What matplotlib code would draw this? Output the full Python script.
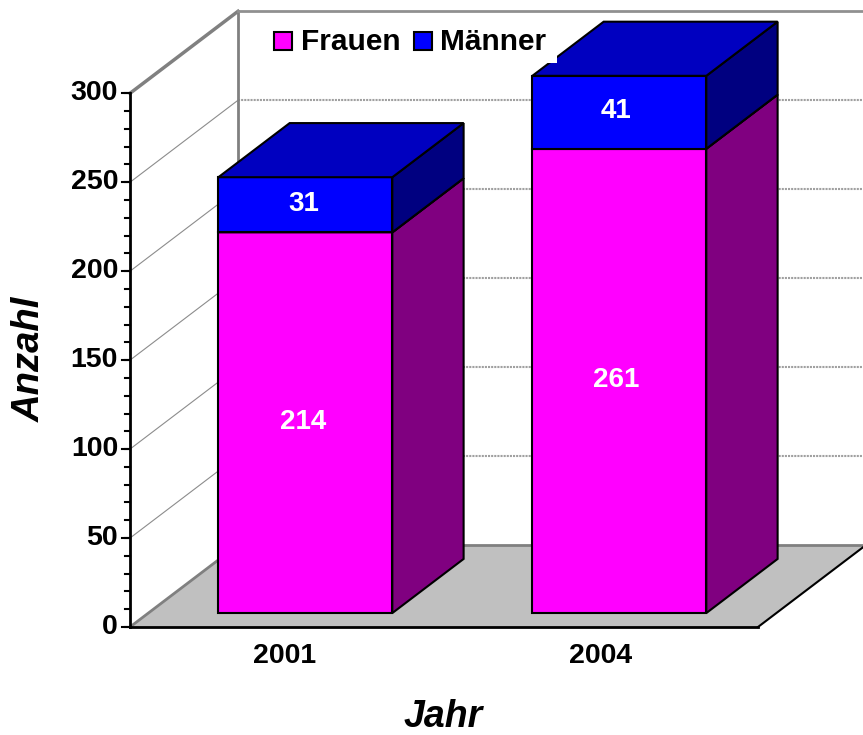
import matplotlib
matplotlib.use('Agg')
import matplotlib.pyplot as plt
from matplotlib.patches import Polygon, Rectangle

plt.rcParams['font.family'] = ['Liberation Sans', 'DejaVu Sans']

jahre = ['2001', '2004']
frauen = [214, 261]
maenner = [31, 41]
yticks = [0, 50, 100, 150, 200, 250, 300]
minor_ticks = list(range(0, 301, 10))

# oblique projection of the 3d box onto pixels
X0, Y0 = 130, 627
CAT_W = 314
PX_PER_VAL = 1.779
DEPTH_X, DEPTH_Y = 108, 82
YMAX = 300
BAR_W = 0.554
D1, D2 = 0.17, 0.83


def proj(x, v, d):
    return (X0 + CAT_W * x + DEPTH_X * d, Y0 - PX_PER_VAL * v - DEPTH_Y * d)


def face(ax, pts, color, z):
    ax.add_patch(Polygon(pts, closed=True, facecolor=color, edgecolor='black',
                         linewidth=1.5, joinstyle='miter', zorder=z))


def box(ax, i, v0, v1, front, side, top, z):
    x0 = i + 0.5 - BAR_W / 2
    x1 = i + 0.5 + BAR_W / 2
    face(ax, [proj(x0, v0, D1), proj(x1, v0, D1), proj(x1, v1, D1), proj(x0, v1, D1)], front, z)
    face(ax, [proj(x1, v0, D1), proj(x1, v0, D2), proj(x1, v1, D2), proj(x1, v1, D1)], side, z)
    face(ax, [proj(x0, v1, D1), proj(x1, v1, D1), proj(x1, v1, D2), proj(x0, v1, D2)], top, z)


fig = plt.figure(figsize=(8.63, 7.35), dpi=100)
ax = fig.add_axes([0, 0, 1, 1])
ax.set_xlim(0, 863)
ax.set_ylim(735, 0)
ax.axis('off')

# floor
ax.add_patch(Polygon([proj(0, 0, 0), proj(2, 0, 0), proj(2, 0, 1), proj(0, 0, 1)],
                     closed=True, facecolor='#c0c0c0', edgecolor='none', zorder=1))

# walls
for v in yticks[1:-1]:
    ax.plot(*zip(proj(0, v, 0), proj(0, v, 1)), color='#8c8c8c', lw=0.8, zorder=2)
    ax.plot(*zip(proj(0, v, 1), proj(2, v, 1)), color='#a0a0a0', lw=1.5, ls=(0, (1, 0.5)), zorder=2)
ax.plot(*zip(proj(0, 0, 0), proj(0, 0, 1)), color='#808080', lw=2, zorder=2)
ax.plot(*zip(proj(0, 0, 1), proj(2, 0, 1)), color='#808080', lw=2, zorder=2)
ax.plot(*zip(proj(0, 0, 1), proj(0, YMAX, 1)), color='#808080', lw=2, zorder=2)
ax.plot(*zip(proj(0, YMAX, 0), proj(0, YMAX, 1)), color='#808080', lw=2.5, zorder=2)
ax.plot(*zip(proj(0, YMAX, 1), proj(2, YMAX, 1)), color='#909090', lw=2, zorder=2)

# bars
for i in range(len(jahre)):
    f = frauen[i]
    m = maenner[i]
    box(ax, i, 0, f, '#ff00ff', '#800080', '#800080', 3)
    box(ax, i, f, f + m, '#0000ff', '#000080', '#0000c0', 4)
    cx = proj(i + 0.5, 0, D1)[0] - 2 - i
    ax.text(cx, proj(0, f / 2, D1)[1] - 1, str(f), color='white', fontsize=20, fontweight='bold',
            ha='center', va='center', zorder=5)
    ax.text(cx, proj(0, f + m / 2, D1)[1] - 1, str(m), color='white', fontsize=20, fontweight='bold',
            ha='center', va='center', zorder=5)
    ax.text(proj(i + 0.5, 0, 0)[0] - 2.5 + 2 * i, 656, jahre[i], fontsize=20.5, fontweight='bold',
            ha='center', va='center', zorder=5)

# front edges
ax.plot(*zip(proj(0, 0, 0), proj(2, 0, 0)), color='black', lw=2, zorder=5)
ax.plot(*zip(proj(2, 0, 0), proj(2, 0, 1)), color='black', lw=1.5, zorder=2)
ax.plot(*zip(proj(0, 0, 0), proj(0, YMAX, 0)), color='black', lw=2, zorder=5)

# y ticks
for v in minor_ticks:
    px, py = proj(0, v, 0)
    ax.plot([px - 5, px], [py, py], color='black', lw=1.5, zorder=5)
for v in yticks:
    px, py = proj(0, v, 0)
    ax.plot([px - 8, px], [py, py], color='black', lw=1.5, zorder=5)
    ax.text(px - 12, py - 0.5, str(v), fontsize=20.5, fontweight='bold',
            ha='right', va='center', zorder=5)

# legend
ax.add_patch(Rectangle((262, 18), 295, 45, facecolor='white', edgecolor='none', zorder=6))
ax.add_patch(Rectangle((273.5, 32), 18, 18, facecolor='#ff00ff', edgecolor='black', lw=1.5, zorder=7))
ax.text(301, 42, 'Frauen', fontsize=21.5, fontweight='bold', va='center', zorder=7)
ax.add_patch(Rectangle((413.5, 32), 18, 18, facecolor='#0000ff', edgecolor='black', lw=1.5, zorder=7))
ax.text(440, 42, 'Männer', fontsize=21.5, fontweight='bold', va='center', zorder=7)

# axis titles
ax.text(40, 359, 'Anzahl', fontsize=27.5, fontweight='bold', fontstyle='italic',
        rotation=90, ha='center', va='baseline', rotation_mode='anchor')
ax.text(443, 727, 'Jahr', fontsize=27, fontweight='bold', fontstyle='italic',
        ha='center', va='baseline')

fig.savefig('out.png', dpi=100)
